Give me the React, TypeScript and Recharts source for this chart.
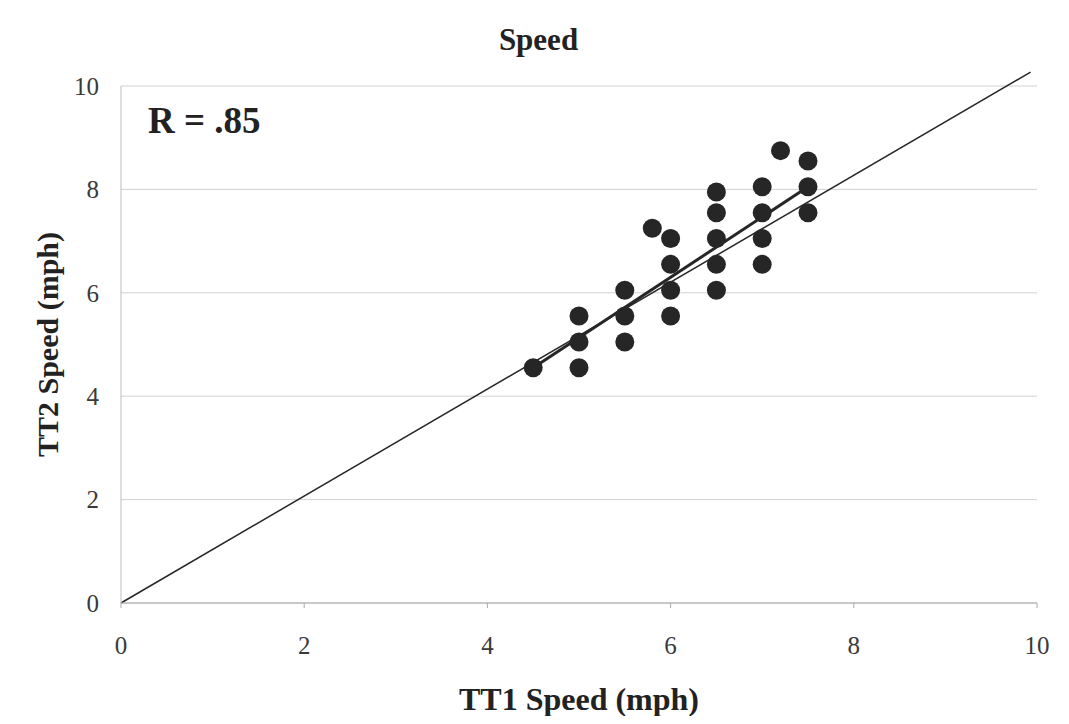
import React from "react";
import {
  CartesianGrid,
  Label,
  ReferenceLine,
  Scatter,
  ScatterChart,
  XAxis,
  YAxis,
} from "recharts";

// TT1 vs TT2 speed (mph)
const tt1 = [
  4.5, 5, 5, 5, 5.5, 5.5, 5.5, 5.8, 6, 6, 6, 6, 6.5, 6.5, 6.5, 6.5, 6.5, 7, 7, 7,
  7, 7.2, 7.5, 7.5, 7.5,
];
const tt2 = [
  4.55, 4.55, 5.05, 5.55, 5.05, 5.55, 6.05, 7.25, 5.55, 6.05, 6.55, 7.05, 6.05,
  6.55, 7.05, 7.55, 7.95, 6.55, 7.05, 7.55, 8.05, 8.75, 7.55, 8.05, 8.55,
];
const ticks = [0, 2, 4, 6, 8, 10];
const identityLine = [
  { x: 0, y: 0 },
  { x: 9.93, y: 10.27 },
];
const fitLine = [
  { x: 4.5, y: 4.55 },
  { x: 7.5, y: 8.05 },
];

const points = tt1.map((x, i) => ({ x, y: tt2[i] }));

const serif = "'Liberation Serif', 'Times New Roman', serif";
const ink = "#262626";

const Dot = (props: any) => (
  <circle cx={props.cx} cy={props.cy} r={9.5} fill={ink} />
);

export default function App() {
  return (
    <div
      style={{
        position: "relative",
        width: 1069,
        height: 724,
        margin: -8,
        background: "#fff",
        fontFamily: serif,
      }}
    >
      <div
        style={{
          position: "absolute",
          left: 7,
          top: 7,
          width: 1058,
          height: 714,
          border: "1px solid #d4d4d4",
        }}
      />
      <div
        style={{
          position: "absolute",
          left: 0,
          width: 1069,
          top: 22,
          textAlign: "center",
          fontSize: 31,
          fontWeight: "bold",
          color: "#222",
          paddingLeft: 8,
          boxSizing: "border-box",
        }}
      >
        Speed
      </div>
      <div
        style={{
          position: "absolute",
          left: 148,
          top: 99,
          fontSize: 37,
          fontWeight: "bold",
          color: "#222",
        }}
      >
        R = .85
      </div>
      <ScatterChart
        width={1069}
        height={724}
        margin={{ top: 86, right: 32, bottom: 0, left: 0 }}
        style={{ position: "absolute", left: 0, top: 0, fontFamily: serif }}
      >
        <CartesianGrid vertical={false} stroke="#d2d2d2" />
        <XAxis
          type="number"
          dataKey="x"
          domain={[0, 10]}
          ticks={ticks}
          height={121}
          stroke="#a8a8a8"
          tickSize={5}
          tickMargin={28}
          tick={{ fontSize: 25, fill: "#3a3a3a", fontFamily: serif }}
        >
          <Label
            value="TT1 Speed (mph)"
            position="insideBottom"
            offset={14}
            style={{
              fontSize: 32,
              fontWeight: "bold",
              fill: "#222",
              fontFamily: serif,
            }}
          />
        </XAxis>
        <YAxis
          type="number"
          dataKey="y"
          domain={[0, 10]}
          ticks={ticks}
          width={121}
          stroke="#bdbdbd"
          tickLine={false}
          tickSize={4}
          tickMargin={18}
          tick={{ fontSize: 25, fill: "#3a3a3a", fontFamily: serif }}
        >
          <Label
            value="TT2 Speed (mph)"
            angle={-90}
            position="insideLeft"
            offset={47}
            style={{
              fontSize: 30,
              fontWeight: "bold",
              fill: "#222",
              fontFamily: serif,
              textAnchor: "middle",
            }}
          />
        </YAxis>
        <ReferenceLine
          segment={identityLine}
          ifOverflow="visible"
          stroke={ink}
          strokeWidth={1.5}
        />
        <ReferenceLine
          segment={fitLine}
          ifOverflow="visible"
          stroke={ink}
          strokeWidth={3}
        />
        <Scatter data={points} shape={Dot} isAnimationActive={false} />
      </ScatterChart>
    </div>
  );
}
